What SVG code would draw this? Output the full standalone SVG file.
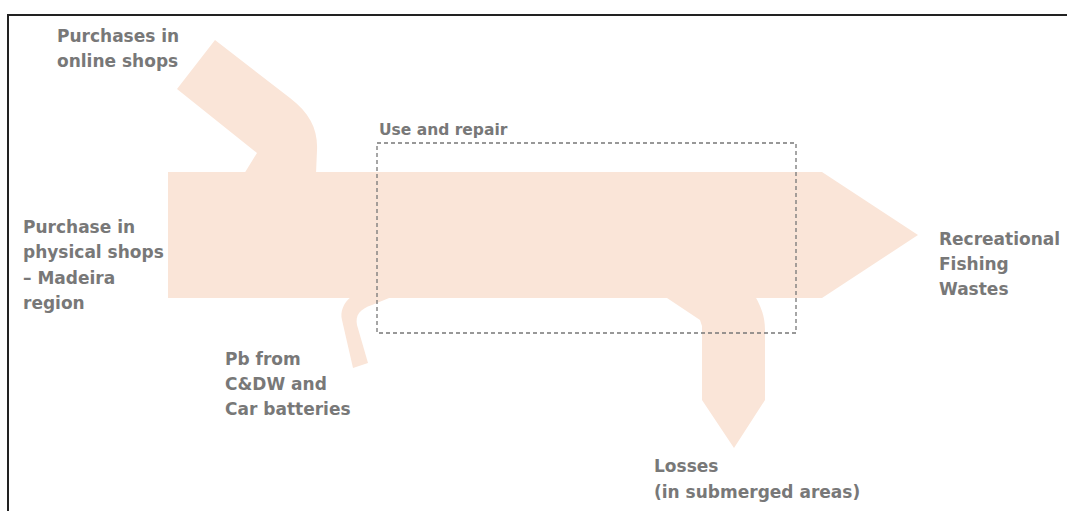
<svg xmlns="http://www.w3.org/2000/svg" width="1067" height="511" viewBox="0 0 1067 511">
<style>
.flow{fill:#fae5d8;stroke:none}
.lbl{font-family:"DejaVu Sans","Liberation Sans",sans-serif;font-weight:bold;font-size:17px;fill:#787878}
.sm{font-size:15.5px}
.box{fill:none;stroke:#777;stroke-width:1.3;stroke-dasharray:4 3}
</style>
<rect width="1067" height="511" fill="#fff"/>
<path d="M8,511 V15 H1067" fill="none" stroke="#222" stroke-width="2"/>
<g id="connectors">
<path class="flow" d="M168,172 H822 L918,235 L822,298 H168 Z"/>
<path class="flow" d="M177,89 L215,40 L290,98 C310,113 318,130 317,150 L316,174 L244,174 L257,153 Z"/>
<path class="flow" d="M352,296 C343,303 340,312 342,320 L353,368 L368,363 L357,325 C355,315 360,309 372,305 L394,296 Z"/>
<path class="flow" d="M664,296 L700,320 L702,326 L702,400 L734,448 L765,400 L765,330 C765,315 760,305 755,296 Z"/>
</g>
<g id="use-repair">
<rect class="box" x="377" y="143" width="419" height="190"/>
<text class="lbl sm" x="379" y="135">Use and repair</text>
</g>
<g id="online">
<text class="lbl" x="57" y="42">Purchases in</text>
<text class="lbl" x="57" y="67">online shops</text>
</g>
<g id="physical">
<text class="lbl" x="23" y="233">Purchase in</text>
<text class="lbl" x="23" y="258">physical shops</text>
<text class="lbl" x="23" y="284">– Madeira</text>
<text class="lbl" x="23" y="309">region</text>
</g>
<g id="pb">
<text class="lbl" x="225" y="365">Pb from</text>
<text class="lbl" x="225" y="390">C&amp;DW and</text>
<text class="lbl" x="225" y="415">Car batteries</text>
</g>
<g id="wastes">
<text class="lbl" x="939" y="245">Recreational</text>
<text class="lbl" x="939" y="270">Fishing</text>
<text class="lbl" x="939" y="295">Wastes</text>
</g>
<g id="losses">
<text class="lbl" x="654" y="472">Losses</text>
<text class="lbl" x="654" y="498">(in submerged areas)</text>
</g>
</svg>
